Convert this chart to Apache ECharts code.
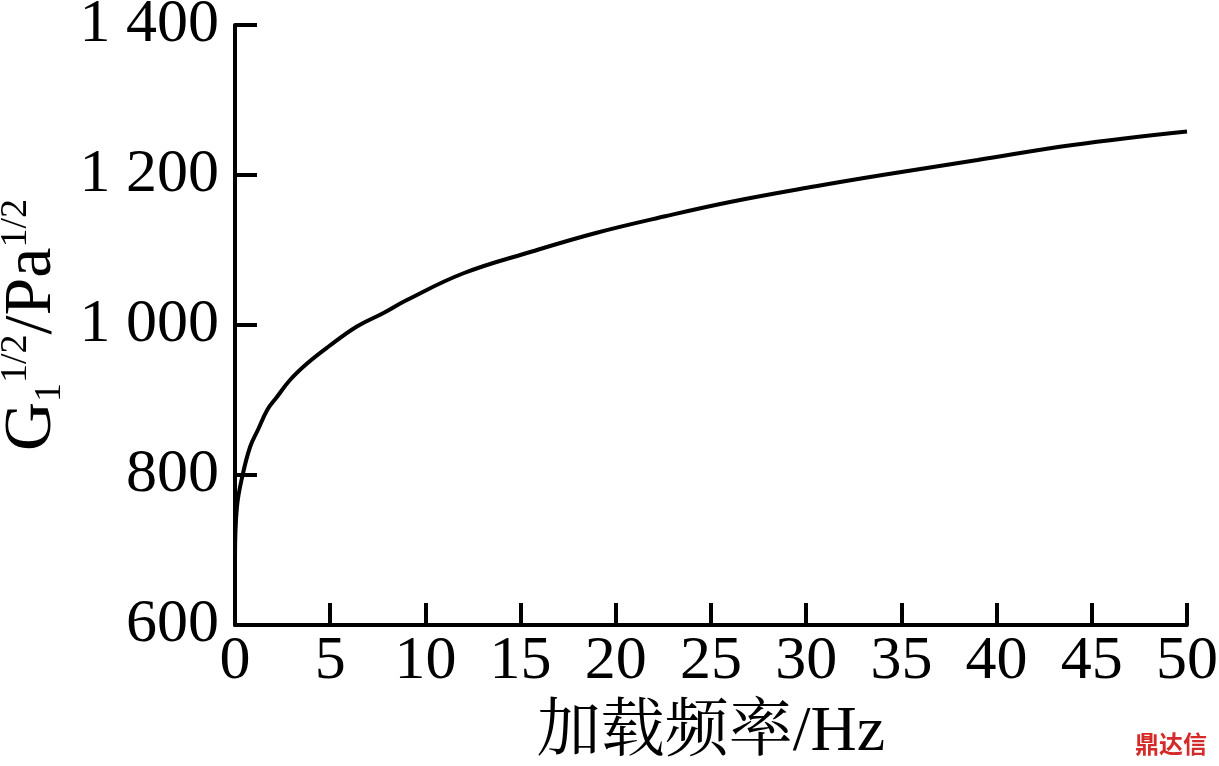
<!DOCTYPE html>
<html>
<head>
<meta charset="utf-8">
<script src="https://cdn.jsdelivr.net/npm/echarts@6/dist/echarts.min.js"></script>
<style>html,body{margin:0;padding:0;background:#fff}#c{width:1219px;height:766px}</style>
</head>
<body>
<div id="c"></div>
<script>
// Data
var freq = [0, 0.1, 0.4, 0.8, 1.2, 1.7, 2.2, 2.9, 3.8, 4.9, 6.4, 7.8, 9, 12, 15.6, 19, 22.6, 26, 30.5, 34, 39, 44, 50];
var modulus = [690, 757, 800, 838, 860, 887, 904, 927, 949, 971, 998, 1016, 1033, 1069, 1098, 1123, 1145, 1164, 1185, 1200, 1220, 1240, 1258];
var yTickValues = [600, 800, 1000, 1200, 1400];
var yTickLabels = ['600', '800', '1 000', '1 200', '1 400'];
var xTickLabels = ['0', '5', '10', '15', '20', '25', '30', '35', '40', '45', '50'];
var xName = '加载频率/Hz';

var FONT = "'Liberation Serif', 'Noto Serif CJK SC', 'Noto Sans CJK SC', serif";
var chart = echarts.init(document.getElementById('c'), null, {renderer: 'canvas'});
var pts = freq.map(function (x, i) { return [x, modulus[i]]; });
chart.setOption({
  animation: false,
  backgroundColor: '#fff',
  grid: {left: 235, right: 32, top: 25, bottom: 141, containLabel: false, outerBoundsMode: 'none'},
  xAxis: {
    type: 'value', min: 0, max: 50, interval: 5,
    name: xName, nameLocation: 'middle', nameGap: 76,
    nameTextStyle: {fontFamily: FONT, fontSize: 64, color: '#000'},
    axisLine: {show: true, lineStyle: {color: '#000', width: 4}},
    axisTick: {show: true, inside: true, length: 22, lineStyle: {color: '#000', width: 4}},
    axisLabel: {
      fontFamily: FONT, fontSize: 62, color: '#000', margin: 6, hideOverlap: false,
      formatter: function (v) { var i = Math.round(v / 5); return xTickLabels[i] !== undefined ? xTickLabels[i] : ''; }
    },
    splitLine: {show: false}
  },
  yAxis: {
    type: 'value', min: 600, max: 1400, interval: 200,
    name: '{m|G}{s|1}{p|1/2}{m|/Pa}{p|1/2}', nameLocation: 'middle', nameGap: 158, nameRotate: 90,
    nameTextStyle: {
      fontFamily: FONT, color: '#000',
      rich: {
        m: {fontFamily: FONT, fontSize: 68, color: '#000', lineHeight: 72, verticalAlign: 'middle'},
        s: {fontFamily: FONT, fontSize: 38, color: '#000', lineHeight: 72, verticalAlign: 'bottom'},
        p: {fontFamily: FONT, fontSize: 38, color: '#000', lineHeight: 72, verticalAlign: 'top'}
      }
    },
    axisLine: {show: true, lineStyle: {color: '#000', width: 4}},
    axisTick: {show: true, inside: true, length: 22, lineStyle: {color: '#000', width: 4}},
    axisLabel: {
      fontFamily: FONT, fontSize: 62, color: '#000', margin: 16, hideOverlap: false,
      formatter: function (v) { var i = yTickValues.indexOf(v); return i >= 0 ? yTickLabels[i] : ''; }
    },
    splitLine: {show: false}
  },
  series: [{
    type: 'line', data: pts, showSymbol: false, smooth: 0.4,
    lineStyle: {color: '#000', width: 4}
  }],
  graphic: [{
    type: 'text', right: 12, bottom: 10,
    style: {text: '鼎达信', fontFamily: "'Noto Sans CJK SC', sans-serif", fontWeight: 'bold', fontSize: 24, fill: '#d42a2a'}
  }]
});
</script>
</body>
</html>
